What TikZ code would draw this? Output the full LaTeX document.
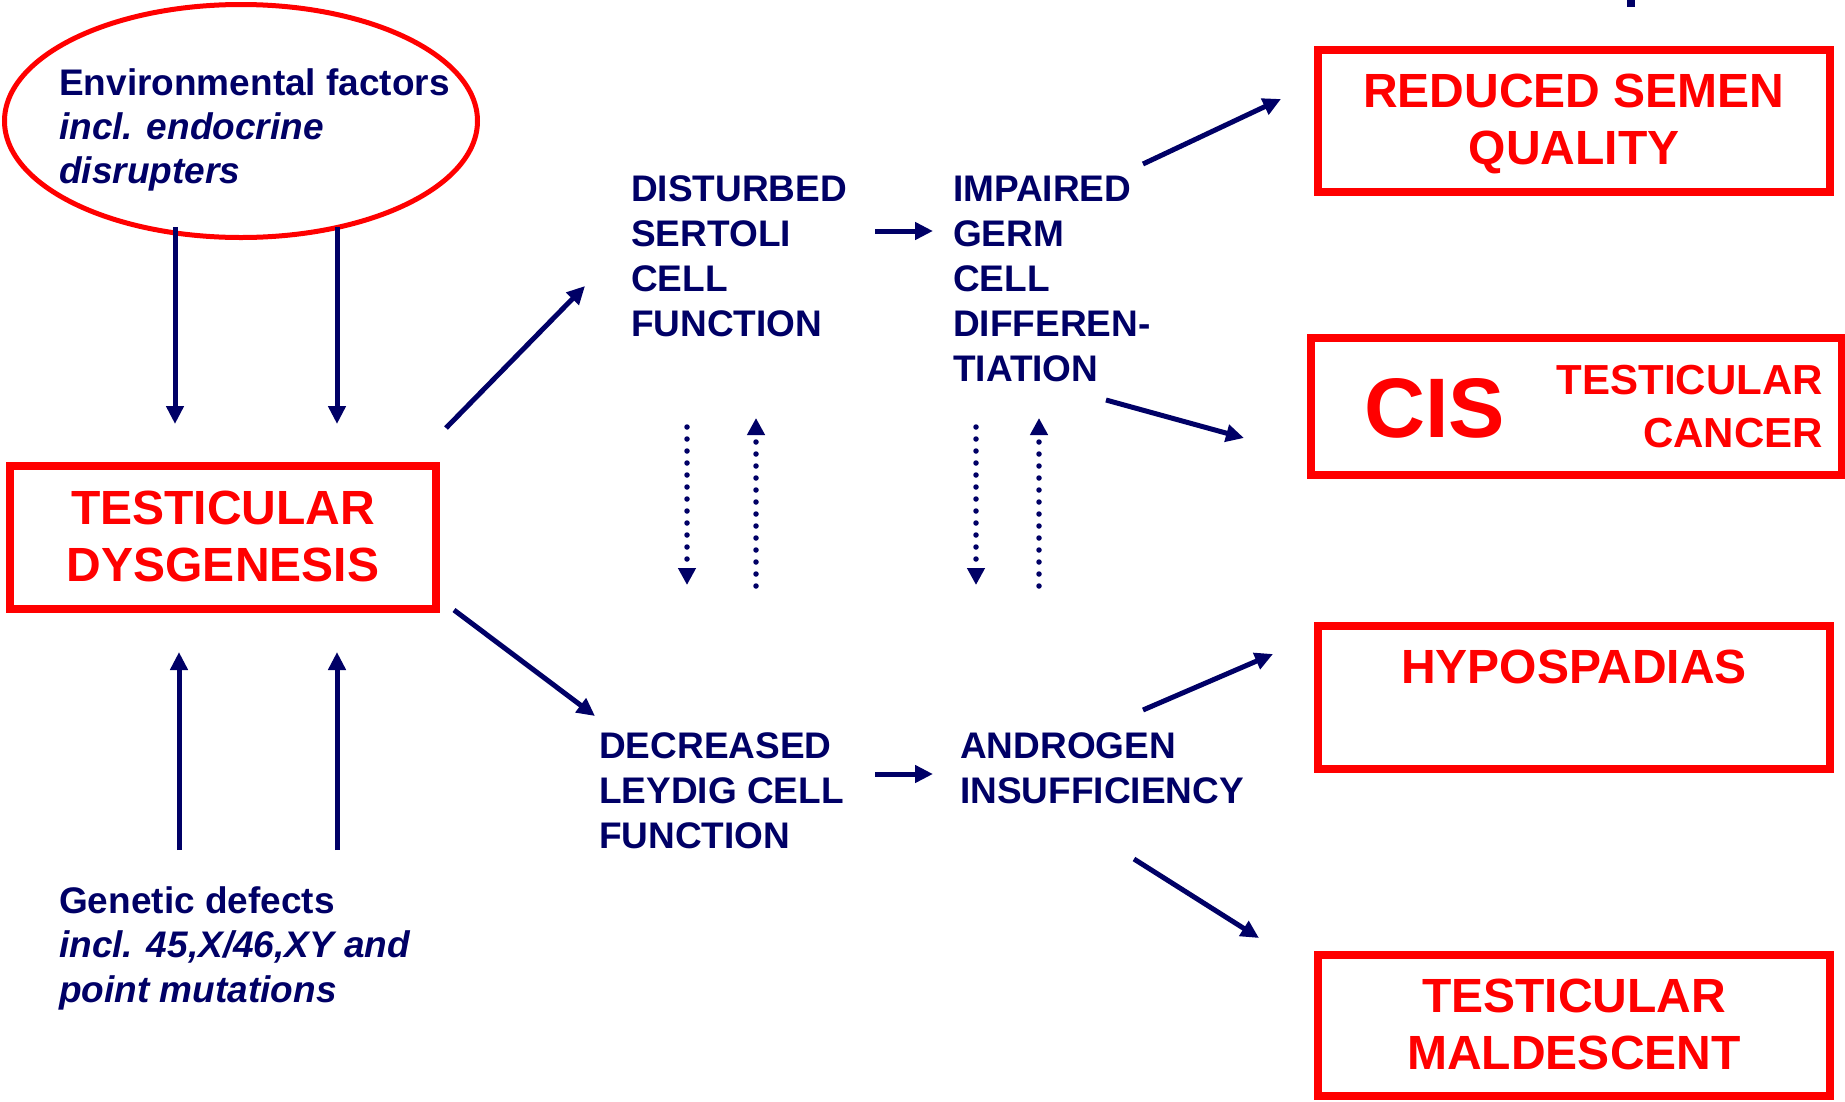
\documentclass[tikz,border=0pt]{standalone}
\usepackage{fontspec}
\setmainfont{Liberation Sans}
\usetikzlibrary{arrows.meta,shapes.geometric}
\definecolor{navy}{RGB}{0,0,102}
\definecolor{redc}{RGB}{255,0,0}
\begin{document}
\begin{tikzpicture}[x=1pt,y=-1pt,
  redbox/.style={draw=redc, line width=7.5pt, rectangle, inner sep=0pt},
  redtxt/.style={text=redc, font=\fontsize{48}{57}\selectfont\bfseries, inner sep=0pt, align=center, anchor=base},
  bluetxt/.style={text=navy, font=\fontsize{37}{45}\selectfont\bfseries, inner sep=0pt, align=left, anchor=base west},
  solidarr/.style={draw=navy, line width=5pt, -{Triangle[length=18pt,width=17pt]}},
  dotarr/.style={draw=navy, line width=5.5pt, line cap=round, dash pattern=on 0pt off 12pt, -{Triangle[length=17pt,width=17pt]}}]
\useasboundingbox (0,0) rectangle (1845,1101);

% fragment at top
\fill[navy] (1627,0) rectangle (1635,7);

% ellipse
\node[ellipse, draw=redc, line width=5pt, minimum width=473pt, minimum height=233pt, inner sep=0pt] (env) at (241,121) {};
\node[bluetxt, font=\fontsize{37}{44}\selectfont] (envtxt) at (59,183) {\bfseries Environmental factors\\\bfseries\itshape incl. endocrine\\\bfseries\itshape disrupters};

% genetic
\node[bluetxt, font=\fontsize{37}{44.5}\selectfont] (gentxt) at (59,1002) {\bfseries Genetic defects\\\bfseries\itshape incl. 45,X/46,XY and\\\bfseries\itshape point mutations};

% red boxes
\node[redbox, minimum width=426pt, minimum height=143pt] (dysg) at (223,537.5) {};
\node[redtxt] (dysgtxt) at (223,581) {TESTICULAR\\DYSGENESIS};

\node[redbox, minimum width=512pt, minimum height=142pt] (reduced) at (1574,121) {};
\node[redtxt] (reducedtxt) at (1574,164) {REDUCED SEMEN\\QUALITY};

\node[redbox, minimum width=531pt, minimum height=137pt] (cis) at (1576.5,406.5) {};
\node[text=redc, font=\fontsize{84.5}{86}\selectfont\bfseries, inner sep=0pt, anchor=base west] (cistxt) at (1364,437) {CIS};
\node[text=redc, font=\fontsize{42}{53}\selectfont\bfseries, inner sep=0pt, align=right, anchor=base east] (cancertxt) at (1823,447) {TESTICULAR\\CANCER};

\node[redbox, minimum width=512pt, minimum height=143pt] (hypo) at (1574,697.5) {};
\node[redtxt] (hypotxt) at (1574,683) {HYPOSPADIAS};

\node[redbox, minimum width=512pt, minimum height=141pt] (malde) at (1574,1025.5) {};
\node[redtxt] (maldetxt) at (1574,1069) {TESTICULAR\\MALDESCENT};

% blue middle texts
\node[bluetxt] (sertoli) at (631,336) {DISTURBED\\SERTOLI\\CELL\\FUNCTION};
\node[bluetxt] (impaired) at (953,381) {IMPAIRED\\GERM\\CELL\\DIFFEREN-\\TIATION};
\node[bluetxt] (leydig) at (599,848) {DECREASED\\LEYDIG CELL\\FUNCTION};
\node[bluetxt] (androgen) at (960,803) {ANDROGEN\\INSUFFICIENCY};

% arrow end coordinates
\coordinate (e1s) at (175,227); \coordinate (e1e) at (175,424);
\coordinate (e2s) at (337,227); \coordinate (e2e) at (337,424);
\coordinate (g1s) at (179,850); \coordinate (g1e) at (179,652);
\coordinate (g2s) at (337,850); \coordinate (g2e) at (337,652);
\coordinate (ds) at (446,428); \coordinate (de) at (585,286);
\coordinate (dls) at (454,610); \coordinate (dle) at (595,716);
\coordinate (sis) at (875,231); \coordinate (sie) at (933,231);
\coordinate (las) at (875,774); \coordinate (lae) at (933,774);
\coordinate (irs) at (1143,164); \coordinate (ire) at (1281,99);
\coordinate (ics) at (1106,400); \coordinate (ice) at (1244,438);
\coordinate (ahs) at (1143,710); \coordinate (ahe) at (1273,654);
\coordinate (ams) at (1134,859); \coordinate (ame) at (1259,938);
\coordinate (sd1s) at (687,427); \coordinate (sd1e) at (687,585);
\coordinate (sd2s) at (756,586); \coordinate (sd2e) at (756,418);
\coordinate (id1s) at (976,427); \coordinate (id1e) at (976,585);
\coordinate (id2s) at (1039,586); \coordinate (id2e) at (1039,418);

\draw[solidarr] (e1s) -- (e1e);
\draw[solidarr] (e2s) -- (e2e);
\draw[solidarr] (g1s) -- (g1e);
\draw[solidarr] (g2s) -- (g2e);
\draw[solidarr] (ds) -- (de);
\draw[solidarr] (dls) -- (dle);
\draw[solidarr] (sis) -- (sie);
\draw[solidarr] (las) -- (lae);
\draw[solidarr] (irs) -- (ire);
\draw[solidarr] (ics) -- (ice);
\draw[solidarr] (ahs) -- (ahe);
\draw[solidarr] (ams) -- (ame);

\draw[dotarr] (sd1s) -- (sd1e);
\draw[dotarr] (sd2s) -- (sd2e);
\draw[dotarr] (id1s) -- (id1e);
\draw[dotarr] (id2s) -- (id2e);
\end{tikzpicture}
\end{document}
